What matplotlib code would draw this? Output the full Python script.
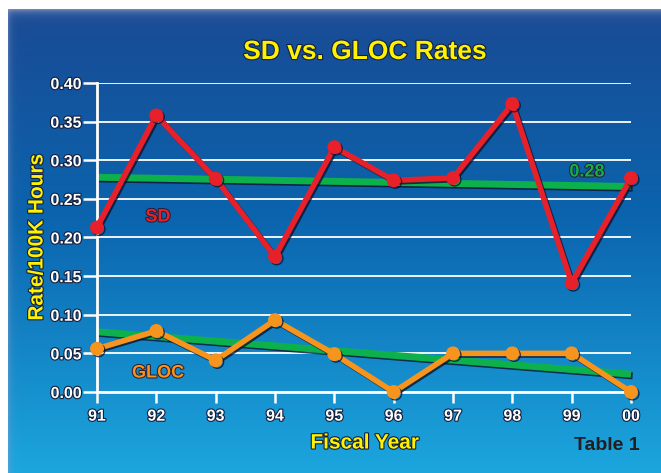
import numpy as np
import matplotlib
matplotlib.use("Agg")
import matplotlib.pyplot as plt
import matplotlib.patheffects as pe
from matplotlib.colors import to_rgb

# data
years = ["91", "92", "93", "94", "95", "96", "97", "98", "99", "00"]
sd_rate = [0.213, 0.358, 0.276, 0.175, 0.317, 0.274, 0.277, 0.373, 0.141, 0.277]
gloc_rate = [0.056, 0.079, 0.041, 0.093, 0.049, 0.0, 0.050, 0.050, 0.050, 0.0]
sd_trend = [0.278, 0.266]
gloc_trend = [0.078, 0.023]
y_ticks = [0.00, 0.05, 0.10, 0.15, 0.20, 0.25, 0.30, 0.35, 0.40]

W, H = 661, 473
plt.rcParams["font.family"] = ["Liberation Sans", "DejaVu Sans"]
plt.rcParams["font.weight"] = "bold"

fig = plt.figure(figsize=(W / 100, H / 100), dpi=100)
fig.patch.set_facecolor("white")

# background panel: vertical gradient with a light bevel on top/left
bg = fig.add_axes([8 / W, 0, 1 - 8 / W, 1 - 9 / H])
bg.set_axis_off()
rows, cols = 464, 653
top = np.array(to_rgb("#1a4a94"))
mid = np.array(to_rgb("#0b64ae"))
bot = np.array(to_rgb("#1ca6de"))
img = np.zeros((rows, cols, 3))
for i, v in enumerate(np.linspace(0, 1, rows)):
    if v < 0.45:
        c = top + (mid - top) * (v / 0.45)
    else:
        c = mid + (bot - mid) * ((v - 0.45) / 0.55)
    img[i, :, :] = c
hl = np.array(to_rgb("#9aa3cc"))
band = np.exp(-np.arange(rows) / 4.0)[:, None, None]
img = img * (1 - band * 0.85) + hl * band * 0.85
lband = np.exp(-np.arange(cols) / 3.0)[None, :, None]
img = img * (1 - lband * 0.35) + hl * lband * 0.35
bg.imshow(img, aspect="auto", extent=[0, 1, 0, 1])
bg.set_xlim(0, 1)
bg.set_ylim(0, 1)

ax = fig.add_axes([97 / W, (H - 392) / H, (631 - 97) / W, (392 - 83) / H])
ax.patch.set_alpha(0)

x = np.arange(len(years))
outline = [pe.withStroke(linewidth=1.6, foreground="#15203f")]
shadow = [pe.SimpleLineShadow(offset=(1.2, -1.2), shadow_color="#0a1530", alpha=0.8), pe.Normal()]

for yv in y_ticks:
    ax.axhline(yv, color="white", lw=1.3, zorder=1)

# trend lines
ax.plot([0, 9], sd_trend, color="#0db14b", lw=5, solid_capstyle="butt",
        path_effects=shadow, zorder=2, clip_on=False)
ax.plot([0, 9], gloc_trend, color="#0db14b", lw=5, solid_capstyle="butt",
        path_effects=shadow, zorder=2, clip_on=False)

ax.plot(x, sd_rate, color="#e8202a", lw=4, marker="o", ms=9,
        path_effects=shadow, zorder=4, clip_on=False)
ax.plot(x, gloc_rate, color="#f7941d", lw=4, marker="o", ms=9,
        path_effects=shadow, zorder=4, clip_on=False)

ax.set_xlim(0, 9)
ax.set_ylim(0, 0.40)
ax.set_xticks(x)
ax.set_xticklabels(years)
ax.set_yticks(y_ticks)
ax.set_yticklabels([f"{v:.2f}" for v in y_ticks])
for lab in ax.get_xticklabels() + ax.get_yticklabels():
    lab.set_color("white")
    lab.set_fontsize(11.5)
    lab.set_fontweight("bold")
    lab.set_path_effects(outline)
ax.tick_params(axis="y", length=10, width=1.8, color="white", pad=1)
ax.tick_params(axis="x", length=8, width=1.8, color="white", pad=4)
for side in ["top", "right"]:
    ax.spines[side].set_visible(False)
for side in ["left", "bottom"]:
    ax.spines[side].set_color("white")
    ax.spines[side].set_linewidth(2)
    ax.spines[side].set_zorder(3)

fig.text(365 / W, 1 - 52 / H, "SD vs. GLOC Rates", color="#fff200", fontsize=19,
         fontweight="bold", ha="center", va="center", path_effects=outline)
fig.text(37 / W, 1 - 237 / H, "Rate/100K Hours", color="#fff200", fontsize=15,
         fontweight="bold", rotation=90, ha="center", va="center", path_effects=outline)
fig.text(365 / W, 1 - 443 / H, "Fiscal Year", color="#fff200", fontsize=15,
         fontweight="bold", ha="center", va="center", path_effects=outline)
fig.text(607 / W, 1 - 445 / H, "Table 1", color="#231f20", fontsize=14,
         fontweight="bold", ha="center", va="center")

lab_fx = [pe.withStroke(linewidth=1.4, foreground="#2a1a30")]
fig.text(158 / W, 1 - 217 / H, "SD", color="#e8202a", fontsize=13,
         fontweight="bold", ha="center", va="center", path_effects=lab_fx)
fig.text(158 / W, 1 - 373 / H, "GLOC", color="#f7941d", fontsize=13,
         fontweight="bold", ha="center", va="center", path_effects=lab_fx)
fig.text(587 / W, 1 - 172 / H, "0.28", color="#0db14b", fontsize=13,
         fontweight="bold", ha="center", va="center", path_effects=lab_fx)

fig.savefig("out.png", dpi=100)
